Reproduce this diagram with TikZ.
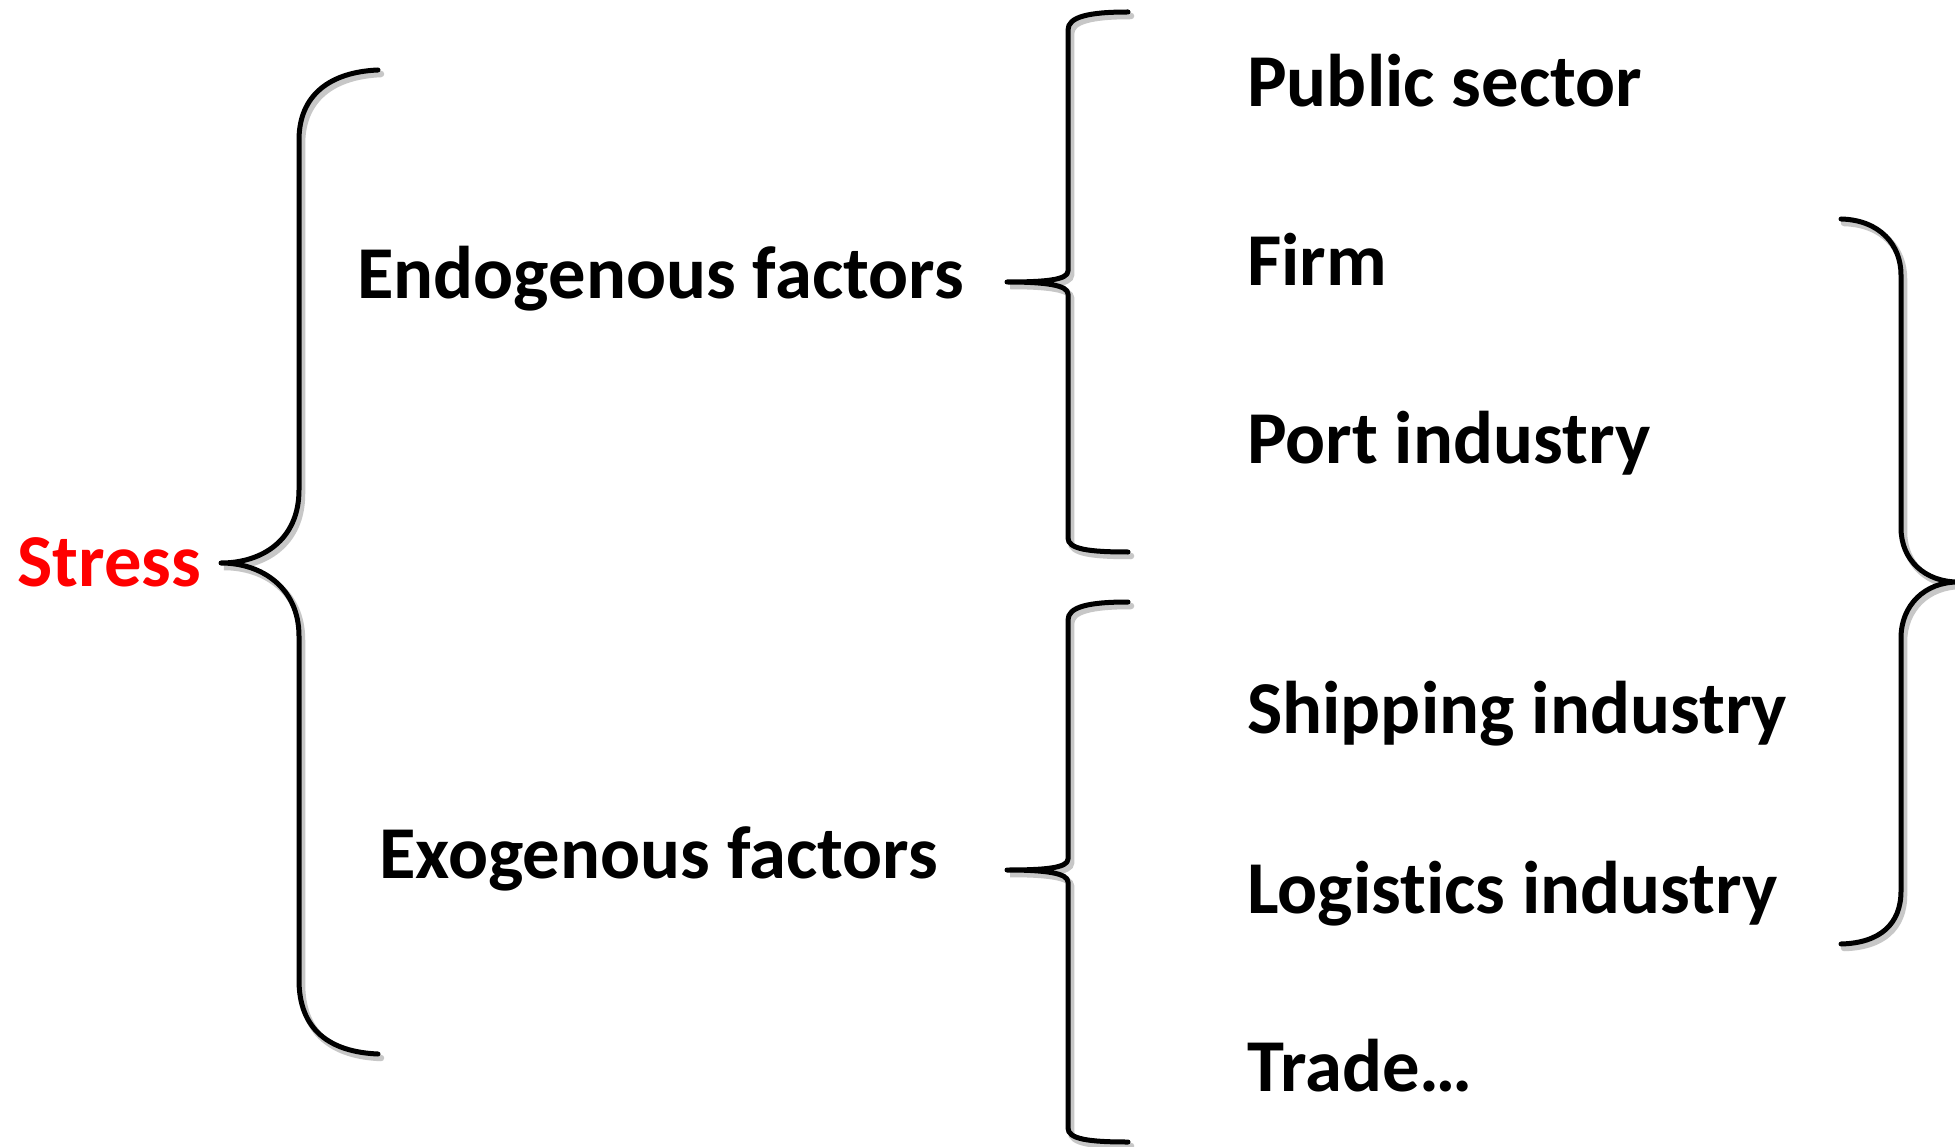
\documentclass[tikz,border=0pt]{standalone}
\usepackage{fontspec}
\setmainfont{Carlito}[Ligatures=NoCommon]
\begin{document}
\begin{tikzpicture}[x=1pt,y=-1pt,
  lbl/.style={anchor=base west,inner sep=0pt,font=\fontsize{74.6}{80}\selectfont\bfseries},
  brace/.style={line width=5pt,line cap=round,line join=round},
  shade/.style={line width=6.5pt,draw=black!22,line cap=round,shift={(3,4)}}]
\useasboundingbox (0,0) rectangle (1955,1147);
\fill[white] (0,0) rectangle (1955,1147);
% brace paths
\def\leftbrace{(378,70) .. controls (330,72) and (299,95) .. (299,140) -- (299,490) .. controls (299,540) and (262,563) .. (221,563) .. controls (262,563) and (299,588) .. (299,636) -- (299,980) .. controls (299,1030) and (330,1052) .. (378,1054)}
\def\upbrace{(1128,12) .. controls (1088,12) and (1068,17) .. (1068,30) -- (1068,271) .. controls (1068,280) and (1045,282) .. (1007,282) .. controls (1045,282) and (1068,285) .. (1068,294) -- (1068,538) .. controls (1068,549) and (1088,552) .. (1128,552)}
\def\lowbrace{(1128,602) .. controls (1088,602) and (1068,607) .. (1068,620) -- (1068,859) .. controls (1068,868) and (1045,870) .. (1007,870) .. controls (1045,870) and (1068,873) .. (1068,882) -- (1068,1128) .. controls (1068,1139) and (1088,1142) .. (1128,1142)}
\def\rightbrace{(1841,219) .. controls (1880,220) and (1901,245) .. (1901,275) -- (1901,528) .. controls (1901,560) and (1925,582) .. (1958,582) .. controls (1925,582) and (1901,605) .. (1901,638) -- (1901,891) .. controls (1901,924) and (1880,943) .. (1841,944)}
\draw[shade] \leftbrace;
\draw[shade] \upbrace;
\draw[shade] \lowbrace;
\draw[shade] \rightbrace;
\draw[brace] \leftbrace;
\draw[brace] \upbrace;
\draw[brace] \lowbrace;
\draw[brace] \rightbrace;
% labels
\node[lbl,text={rgb,255:red,255;green,0;blue,0}] (stress) at (17,586) {Stress};
\node[lbl] (endo) at (357,299) {Endogenous factors};
\node[lbl] (exo) at (379,878) {Exogenous factors};
\node[lbl] (pub) at (1247,107) {Public sector};
\node[lbl] (firm) at (1247,286) {Firm};
\node[lbl] (port) at (1247,464) {Port industry};
\node[lbl] (ship) at (1247,733) {Shipping industry};
\node[lbl] (logi) at (1247,913) {Logistics industry};
\node[lbl] (trade) at (1247,1091) {Trade…};
\end{tikzpicture}
\end{document}
